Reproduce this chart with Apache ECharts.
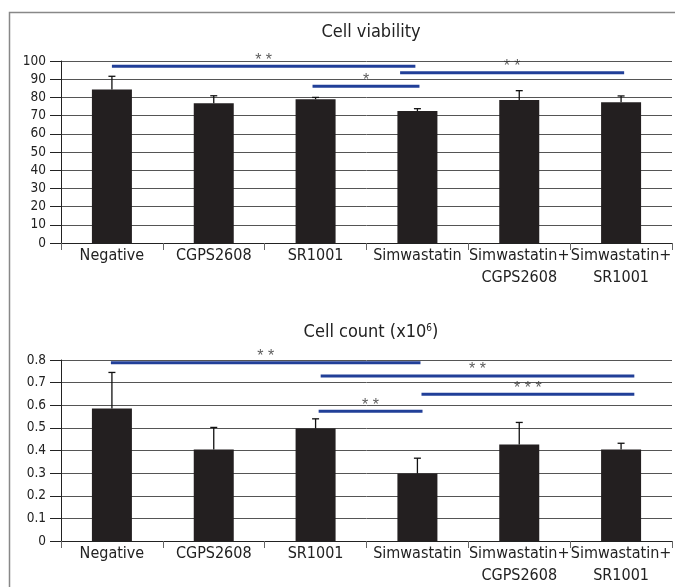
<!DOCTYPE html>
<html>
<head>
<meta charset="utf-8">
<script src="https://cdn.jsdelivr.net/npm/echarts@6/dist/echarts.min.js"></script>
<style>html,body{margin:0;padding:0;background:#fff}#c{width:675px;height:587px}</style>
</head>
<body>
<div id="c"></div>
<script>
const categories = ['Negative', 'CGPS2608', 'SR1001', 'Simwastatin', 'Simwastatin+\nCGPS2608', 'Simwastatin+\nSR1001'];
const viability = [84.4, 76.8, 79.0, 72.5, 78.6, 77.3];
const viabilitySD = [7.2, 4.1, 1.0, 1.3, 5.1, 3.5];
const cellCount = [0.586, 0.404, 0.497, 0.298, 0.427, 0.404];
const cellCountSD = [0.159, 0.098, 0.043, 0.068, 0.097, 0.028];
const viabilityTicks = { min: 0, max: 100, interval: 10 };
const countTicks = { min: 0, max: 0.8, interval: 0.1 };
// significance brackets: [fromCategoryPos, toCategoryPos, yValue, label]
const viabilitySig = [
  [0.5, 3.48, 97.1, '* *'],
  [3.33, 5.53, 93.6, '* *'],
  [2.47, 3.52, 86.1, '*']
];
const countSig = [
  [0.49, 3.53, 0.788, '* *'],
  [2.55, 5.63, 0.729, '* *'],
  [3.54, 5.63, 0.649, '* * *'],
  [2.53, 3.55, 0.573, '* *']
];

const FONT = "'DejaVu Sans Condensed', 'Liberation Sans', sans-serif";
const BLUE = '#213f98';

function errSeries(vals, sds, xi, yi) {
  return {
    type: 'custom', xAxisIndex: xi, yAxisIndex: yi, z: 5,
    data: vals.map((v, i) => [i, v, sds[i]]),
    encode: { x: 0, y: 1 },
    renderItem: function (params, api) {
      const i = api.value(0), v = api.value(1), sd = api.value(2);
      const top = api.coord([i, v + sd]);
      const base = api.coord([i, v]);
      const st = { stroke: '#111', lineWidth: 1.3 };
      return { type: 'group', children: [
        { type: 'line', shape: { x1: top[0], y1: top[1], x2: base[0], y2: base[1] }, style: st },
        { type: 'line', shape: { x1: top[0] - 3.5, y1: top[1], x2: top[0] + 3.5, y2: top[1] }, style: st }
      ]};
    }
  };
}

function sigSeries(sig, xi, yi) {
  const out = [];
  sig.forEach(s => {
    out.push({
      type: 'line', xAxisIndex: xi, yAxisIndex: yi, z: 6,
      data: [[s[0], s[2]], [s[1], s[2]]],
      symbol: 'none', silent: true,
      lineStyle: { color: BLUE, width: 3 }
    });
  });
  out.push({
    type: 'scatter', xAxisIndex: xi, yAxisIndex: yi, z: 7, symbolSize: 0, silent: true,
    data: sig.map(s => [(s[0] + s[1]) / 2, s[2], s[3]]),
    label: {
      show: true, position: 'inside', offset: [0, -6],
      formatter: p => p.data[2],
      fontFamily: 'Liberation Sans', fontSize: 16, color: '#333'
    }
  });
  return out;
}

function catAxis(gi) {
  return {
    type: 'category', gridIndex: gi, data: categories,
    axisLine: { lineStyle: { color: '#222', width: 1 } },
    axisTick: { show: true, length: 7, lineStyle: { color: '#666' } },
    axisLabel: { interval: 0, margin: 2, fontFamily: FONT, fontSize: 16, lineHeight: 22, color: '#222' }
  };
}
function hidAxis(gi) {
  return { type: 'value', gridIndex: gi, min: 0, max: 6, show: false };
}
function valAxis(gi, t) {
  return {
    type: 'value', gridIndex: gi, min: t.min, max: t.max, interval: t.interval,
    axisLine: { show: true, lineStyle: { color: '#222', width: 1 } },
    axisTick: { show: true, length: 11, lineStyle: { color: '#222' } },
    axisLabel: { margin: 15, fontFamily: FONT, fontSize: 13.5, color: '#222' },
    splitLine: { lineStyle: { color: '#555', width: 1 } }
  };
}

const chart = echarts.init(document.getElementById('c'), null, { renderer: 'canvas' });
chart.setOption({
  animation: false,
  backgroundColor: '#fff',
  title: [
    { text: 'Cell viability', left: 366, top: 18, textAlign: 'center',
      textStyle: { fontFamily: FONT, fontSize: 18, fontWeight: 'normal', color: '#222' } },
    { text: 'Cell count (x10{sup|6})', left: 366, top: 318, textAlign: 'center',
      textStyle: { fontFamily: FONT, fontSize: 18, fontWeight: 'normal', color: '#222',
        rich: { sup: { fontFamily: FONT, fontSize: 10, verticalAlign: 'top', padding: [0, 0, 7, 0], color: '#222' } } } }
  ],
  graphic: [{
    type: 'polyline', shape: { points: [[9.5, 587], [9.5, 12.5], [675, 12.5]] },
    style: { stroke: '#888', lineWidth: 1.5, fill: null }, silent: true
  }],
  grid: [
    { left: 61, right: 3, top: 61, height: 182, outerBoundsMode: 'none', containLabel: false },
    { left: 61, right: 3, top: 360, height: 181, outerBoundsMode: 'none', containLabel: false }
  ],
  xAxis: [catAxis(0), hidAxis(0), catAxis(1), hidAxis(1)],
  yAxis: [valAxis(0, viabilityTicks), valAxis(1, countTicks)],
  series: [
    { type: 'bar', xAxisIndex: 0, yAxisIndex: 0, data: viability, barWidth: 40, itemStyle: { color: '#231f20' }, z: 3 },
    errSeries(viability, viabilitySD, 0, 0),
    ...sigSeries(viabilitySig, 1, 0),
    { type: 'bar', xAxisIndex: 2, yAxisIndex: 1, data: cellCount, barWidth: 40, itemStyle: { color: '#231f20' }, z: 3 },
    errSeries(cellCount, cellCountSD, 2, 1),
    ...sigSeries(countSig, 3, 1)
  ]
});
</script>
</body>
</html>
